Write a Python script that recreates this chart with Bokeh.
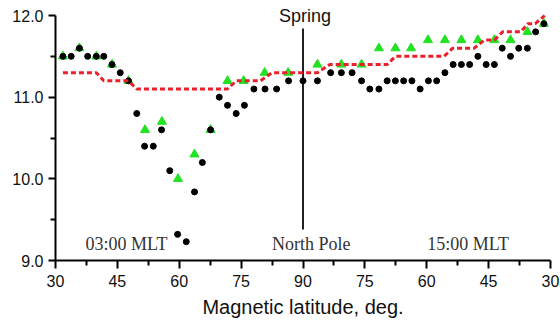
from bokeh.plotting import figure
from bokeh.models import FixedTicker, Label, Range1d
from bokeh.embed import file_html
from bokeh.resources import INLINE

# position along axis: 30..90 = latitude on 03:00 MLT side, 90..150 = 180-lat on 15:00 MLT side
black_x = [31.8, 33.8, 35.8, 37.8, 39.9, 41.7, 43.7, 45.7, 47.7, 49.7, 51.6, 53.7, 55.7, 57.7,
           59.6, 61.7, 63.7, 65.6, 67.6, 69.7, 71.7, 73.8, 75.8, 78.1, 80.8, 83.6, 86.5, 90.0,
           93.5, 96.7, 99.3, 101.9, 104.2, 106.2, 108.4, 110.4, 112.4, 114.4, 116.4, 118.4,
           120.4, 122.4, 124.4, 126.4, 128.4, 130.4, 132.4, 134.4, 136.4, 138.3, 140.3, 142.3,
           144.4, 146.4, 148.4]
black_y = [11.5, 11.5, 11.6, 11.5, 11.5, 11.5, 11.4, 11.3, 11.2, 10.8, 10.4, 10.4, 10.6, 10.1,
           9.32, 9.23, 9.84, 10.2, 10.6, 11.0, 10.9, 10.8, 10.9, 11.1, 11.1, 11.1, 11.2, 11.2,
           11.2, 11.3, 11.3, 11.3, 11.2, 11.1, 11.1, 11.2, 11.2, 11.2, 11.2, 11.1,
           11.2, 11.2, 11.3, 11.4, 11.4, 11.4, 11.5, 11.4, 11.4, 11.6, 11.5, 11.6,
           11.6, 11.8, 11.9]

green_x = [31.8, 35.8, 39.9, 43.7, 47.7, 51.7, 55.8, 59.7, 63.7, 67.6, 71.7, 75.6, 80.7, 86.4,
           93.5, 99.3, 104.2, 108.4, 112.4, 116.2, 120.3, 124.4, 128.4, 132.4, 136.4, 140.3,
           144.4, 148.4]
green_y = [11.5, 11.6, 11.5, 11.4, 11.2, 10.6, 10.7, 10.0, 10.3, 10.6, 11.2, 11.2, 11.3, 11.3,
           11.4, 11.4, 11.4, 11.6, 11.6, 11.6, 11.7, 11.7, 11.7, 11.7, 11.7, 11.7,
           11.8, 11.9]

red_x = [31.8, 39.9, 41.7, 47.7, 49.7, 71.7, 73.8, 79.7, 82.5, 93.5, 96.5, 110.4, 112.4,
         124.2, 126.3, 131.5, 134.0, 136.4, 138.4, 142.8, 144.5, 146.3, 148.6]
red_y = [11.3, 11.3, 11.2, 11.2, 11.1, 11.1, 11.2, 11.2, 11.3, 11.3, 11.4, 11.4, 11.5,
         11.5, 11.6, 11.6, 11.7, 11.7, 11.8, 11.8, 11.9, 11.9, 12.0]

x_tick_pos = [30, 45, 60, 75, 90, 105, 120, 135, 150]
x_tick_labels = ["30", "45", "60", "75", "90", "75", "60", "45", "30"]
y_ticks = [9.0, 10.0, 11.0, 12.0]
y_tick_labels = ["9.0", "10.0", "11.0", "12.0"]

pole_x = 90
pole_y = [9.38, 11.84]

p = figure(width=560, height=320, output_backend="svg", toolbar_location=None,
           x_range=Range1d(30, 150), y_range=Range1d(9, 12.184),
           min_border_left=55, min_border_right=10, min_border_top=0, min_border_bottom=60)
p.outline_line_color = None
p.grid.visible = False
p.background_fill_color = "white"
p.border_fill_color = "white"

# axes
xa = p.xaxis[0]
xa.ticker = FixedTicker(ticks=x_tick_pos,
                        minor_ticks=[t + 7.5 for t in x_tick_pos[:-1]])
xa.major_label_overrides = {t: l for t, l in zip(x_tick_pos, x_tick_labels)}
xa.axis_label = "Magnetic latitude, deg."
ya = p.yaxis[0]
ya.ticker = FixedTicker(ticks=y_ticks, minor_ticks=[9.5, 10.5, 11.5])
ya.major_label_overrides = {t: l for t, l in zip(y_ticks, y_tick_labels)}
ya.bounds = (9, 12)

for ax in (xa, ya):
    ax.axis_line_color = "black"
    ax.axis_line_width = 2
    ax.major_tick_line_color = "black"
    ax.major_tick_line_width = 2
    ax.minor_tick_line_color = "black"
    ax.minor_tick_line_width = 2
    ax.major_tick_in = 0
    ax.minor_tick_in = 0
    ax.major_label_text_font = "Liberation Sans"
    ax.major_label_text_font_size = "16px"
    ax.major_label_text_color = "#111111"
    ax.axis_label_text_font = "Liberation Sans"
    ax.axis_label_text_font_size = "20px"
    ax.axis_label_text_font_style = "normal"
    ax.axis_label_text_color = "#111111"

xa.major_tick_out = 8
xa.minor_tick_out = 5
xa.major_label_standoff = 6
xa.axis_label_standoff = 6
ya.major_tick_out = 7
ya.minor_tick_out = 5
ya.major_label_standoff = 5

# pole line
p.line([pole_x, pole_x], pole_y, line_color="#222222", line_width=2)

# data
p.scatter(green_x, green_y, marker="triangle", size=9, fill_color="#22e222",
          line_color="#22e222")
p.scatter(black_x, black_y, marker="circle", size=6, fill_color="black",
          line_color="black")
p.line(red_x, red_y, line_color="#e8202a", line_width=3, line_dash="5 3")

# annotations
p.add_layout(Label(x=90.5, y=11.875, text="Spring", text_align="center",
                   text_font="Liberation Sans", text_font_size="18px",
                   text_color="#111111"))
for tx, txt in [(37.3, "03:00 MLT"), (82.5, "North Pole"), (120.1, "15:00 MLT")]:
    p.add_layout(Label(x=tx, y=9.08, text=txt, text_align="left",
                       text_font="Liberation Serif", text_font_size="18px",
                       text_color="#333333"))

open("out.html", "w").write(file_html(p, INLINE))
